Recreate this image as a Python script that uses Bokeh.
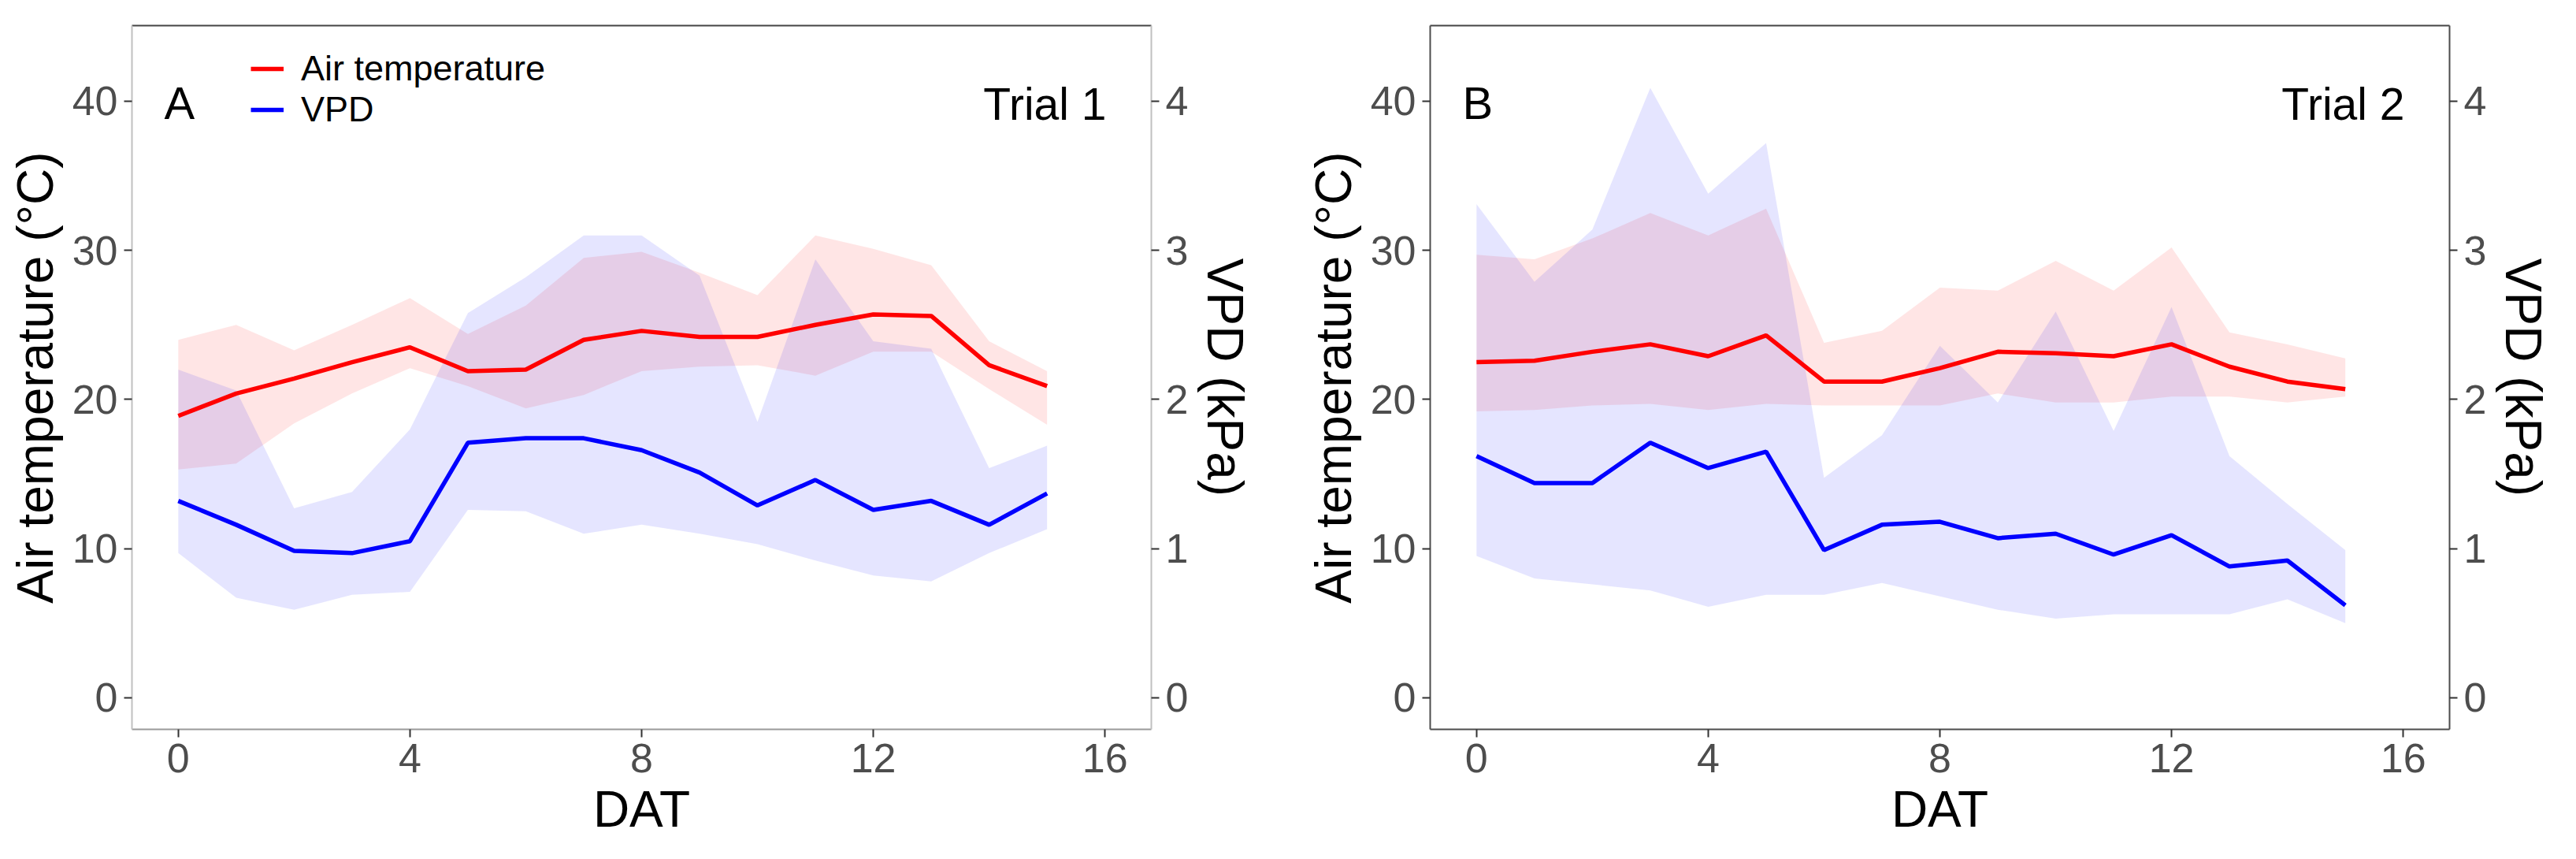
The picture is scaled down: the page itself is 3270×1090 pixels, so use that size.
from bokeh.plotting import figure
from bokeh.models import (Range1d, LinearAxis, FixedTicker, Legend, LegendItem, Label)
from bokeh.layouts import row
from bokeh.embed import file_html
from bokeh.resources import INLINE

# ---------------- data ----------------
days = list(range(16))

# Trial 1 (panel A)
tempA = [18.9, 20.4, 21.4, 22.5, 23.5, 21.9, 22.0, 24.0, 24.6, 24.2, 24.2, 25.0, 25.7, 25.6, 22.3, 20.9]
tempA_hi = [24.0, 25.0, 23.3, 25.0, 26.8, 24.4, 26.3, 29.5, 29.9, 28.5, 27.0, 31.0, 30.1, 29.0, 23.9, 21.9]
tempA_lo = [15.3, 15.7, 18.4, 20.4, 22.1, 20.9, 19.4, 20.3, 21.9, 22.2, 22.3, 21.6, 23.2, 23.2, 20.7, 18.3]
vpdA = [1.32, 1.16, 0.985, 0.97, 1.05, 1.71, 1.74, 1.74, 1.66, 1.51, 1.29, 1.46, 1.26, 1.32, 1.16, 1.37]
vpdA_hi = [2.20, 2.06, 1.27, 1.38, 1.80, 2.58, 2.82, 3.10, 3.10, 2.83, 1.85, 2.94, 2.39, 2.34, 1.54, 1.69]
vpdA_lo = [0.97, 0.67, 0.59, 0.69, 0.71, 1.26, 1.25, 1.10, 1.16, 1.10, 1.03, 0.92, 0.82, 0.78, 0.97, 1.13]

# Trial 2 (panel B)
tempB = [22.5, 22.6, 23.2, 23.7, 22.9, 24.3, 21.2, 21.2, 22.1, 23.2, 23.1, 22.9, 23.7, 22.2, 21.2, 20.7]
tempB_hi = [29.7, 29.4, 30.8, 32.5, 31.0, 32.8, 23.8, 24.6, 27.5, 27.3, 29.3, 27.3, 30.2, 24.5, 23.7, 22.75]
tempB_lo = [19.2, 19.3, 19.6, 19.7, 19.3, 19.7, 19.6, 19.6, 19.6, 20.4, 19.8, 19.8, 20.2, 20.2, 19.8, 20.2]
vpdB = [1.62, 1.44, 1.44, 1.71, 1.54, 1.65, 0.99, 1.16, 1.18, 1.07, 1.10, 0.96, 1.09, 0.88, 0.92, 0.62]
vpdB_hi = [3.31, 2.79, 3.14, 4.09, 3.38, 3.72, 1.475, 1.76, 2.36, 1.98, 2.59, 1.79, 2.62, 1.62, 1.30, 0.99]
vpdB_lo = [0.95, 0.80, 0.76, 0.72, 0.61, 0.69, 0.69, 0.77, 0.68, 0.59, 0.53, 0.56, 0.56, 0.56, 0.66, 0.50]

x_ticks = [0, 4, 8, 12, 16]
temp_ticks = [0, 10, 20, 30, 40]
vpd_ticks = [0, 1, 2, 3, 4]

series_labels = ["Air temperature", "VPD"]
panel_letters = ["A", "B"]
trial_names = ["Trial 1", "Trial 2"]
x_title = "DAT"
y_title = "Air temperature (\u00b0C)"
y2_title = "VPD (kPa)"

FONT = "Liberation Sans"
RED = "#FF0000"
BLUE = "#0000FF"


def style_axis(ax, line_color):
    ax.axis_line_color = line_color
    ax.axis_line_width = 2
    ax.major_tick_out = 10
    ax.major_tick_in = 0
    ax.major_tick_line_color = "#333333"
    ax.major_tick_line_width = 2
    ax.minor_tick_line_color = None
    ax.major_label_text_color = "#4D4D4D"
    ax.major_label_text_font = FONT
    ax.major_label_text_font_size = "52px"
    ax.major_label_standoff = 8
    ax.axis_label_text_font = FONT
    ax.axis_label_text_font_size = "64px"
    ax.axis_label_text_font_style = "normal"
    ax.axis_label_text_color = "#000000"
    ax.axis_label_standoff = 8


def make_panel(temp, temp_hi, temp_lo, vpd, vpd_hi, vpd_lo, idx,
               b_left, b_right, line_cols, legend=False):
    p = figure(frame_width=1294, frame_height=893,
               min_border_left=b_left, min_border_right=b_right,
               min_border_top=32, min_border_bottom=149,
               x_range=Range1d(-0.8, 16.8), y_range=Range1d(-2.12, 45.07),
               output_backend="svg", toolbar_location=None,
               background_fill_color="white", border_fill_color="white")
    p.extra_y_ranges = {"vpd": Range1d(-0.212, 4.507)}
    p.outline_line_color = None
    p.xgrid.visible = False
    p.ygrid.visible = False

    # ribbons
    p.varea(x=days, y1=temp_lo, y2=temp_hi, fill_color=RED, fill_alpha=0.1)
    p.varea(x=days, y1=vpd_lo, y2=vpd_hi, fill_color=BLUE, fill_alpha=0.1,
            y_range_name="vpd")
    # lines
    r_t = p.line(days, temp, line_color=RED, line_width=5.5)
    r_v = p.line(days, vpd, line_color=BLUE, line_width=5.5, y_range_name="vpd")

    # axes
    p.xaxis.ticker = FixedTicker(ticks=x_ticks)
    p.yaxis.ticker = FixedTicker(ticks=temp_ticks)
    p.xaxis.axis_label = x_title
    p.yaxis.axis_label = y_title
    style_axis(p.xaxis[0], line_cols[3])
    style_axis(p.yaxis[0], line_cols[0])

    ax2 = LinearAxis(y_range_name="vpd", ticker=FixedTicker(ticks=vpd_ticks),
                     axis_label=y2_title)
    style_axis(ax2, line_cols[1])
    p.add_layout(ax2, "right")

    top = LinearAxis(ticker=FixedTicker(ticks=[]))
    top.axis_line_color = line_cols[2]
    top.axis_line_width = 2
    top.major_tick_line_color = None
    top.minor_tick_line_color = None
    top.major_label_text_font_size = "0px"
    p.add_layout(top, "above")

    # panel letter and trial name
    p.add_layout(Label(x=41, y=795, x_units="screen", y_units="screen",
                       text=panel_letters[idx], text_font=FONT,
                       text_font_size="58px", text_color="#000000",
                       text_baseline="alphabetic", text_align="left"))
    p.add_layout(Label(x=1237, y=794, x_units="screen", y_units="screen",
                       text=trial_names[idx], text_font=FONT,
                       text_font_size="57px", text_color="#000000",
                       text_baseline="alphabetic", text_align="right"))

    if legend:
        lg = Legend(items=[LegendItem(label=series_labels[0], renderers=[r_t]),
                           LegendItem(label=series_labels[1], renderers=[r_v])],
                    location=(151, 760), orientation="vertical",
                    padding=0, margin=0, spacing=0,
                    glyph_width=42, glyph_height=52, label_height=52,
                    label_standoff=22, label_text_font=FONT,
                    label_text_font_size="45px", label_text_color="#000000",
                    border_line_color=None, background_fill_alpha=0)
        p.add_layout(lg, "center")
    return p


pA = make_panel(tempA, tempA_hi, tempA_lo, vpdA, vpdA_hi, vpdA_lo, 0,
                167, 171, ["#C0C0C0", "#C0C0C0", "#444444", "#9A9A9A"], legend=True)
pB = make_panel(tempB, tempB_hi, tempB_lo, vpdB, vpdB_hi, vpdB_lo, 1,
                183, 145, ["#4D4D4D", "#4D4D4D", "#444444", "#4D4D4D"])

layout = row(pA, pB)
open("out.html", "w").write(file_html(layout, INLINE))
